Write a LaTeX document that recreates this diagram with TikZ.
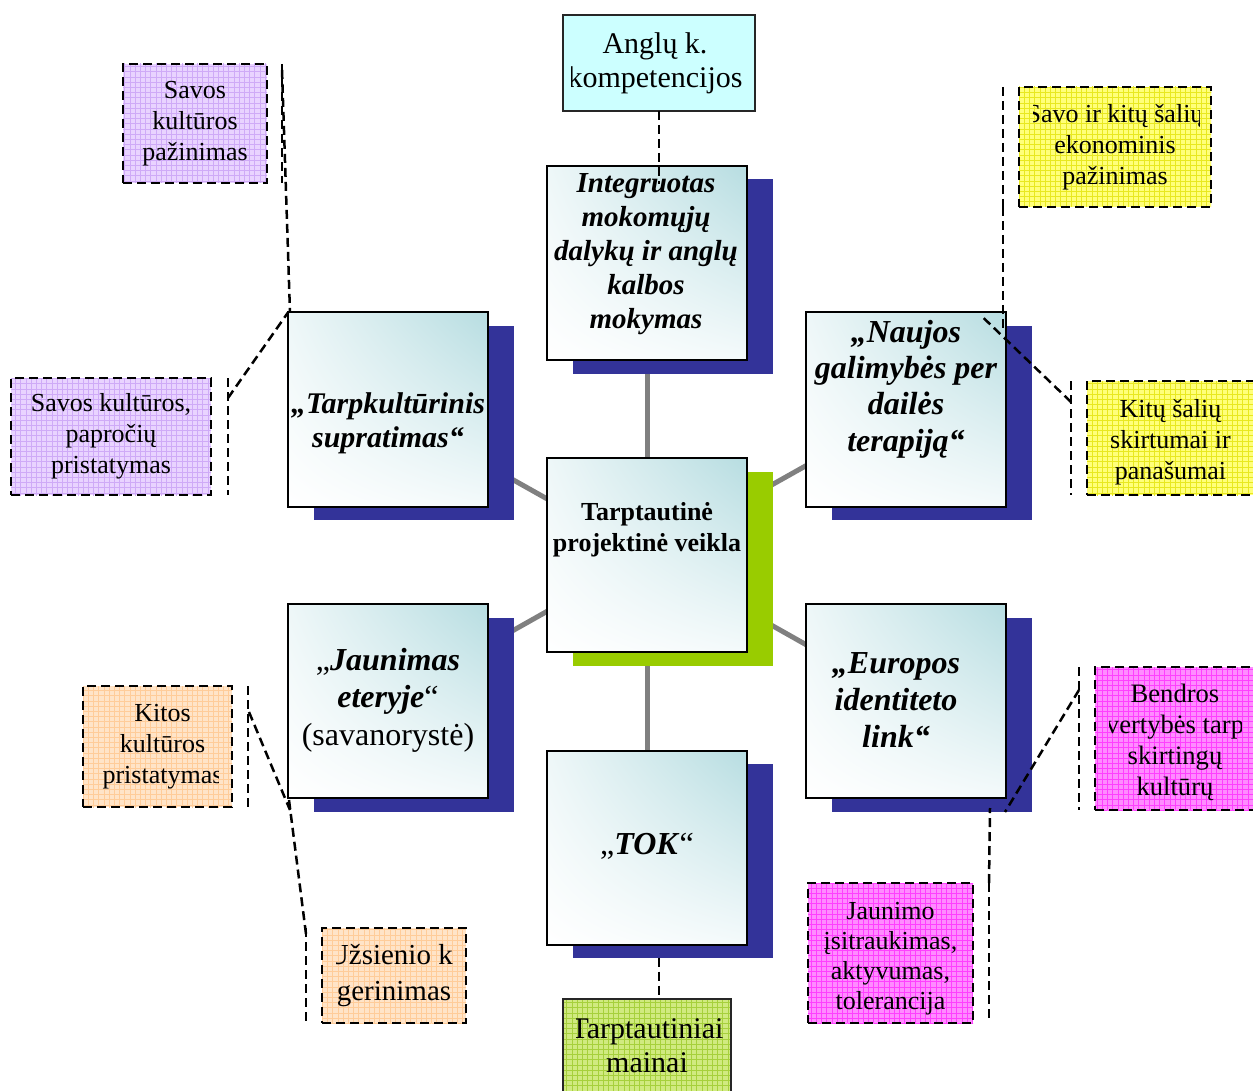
\documentclass[tikz,border=0pt]{standalone}
\usepackage{fontspec}
\setmainfont{Liberation Serif}
\usetikzlibrary{shadows,shadings,patterns,backgrounds}

\definecolor{shadownavy}{HTML}{333399}
\definecolor{shadowgreen}{HTML}{99CC00}
\definecolor{linkgray}{HTML}{808080}
\definecolor{tealtop}{HTML}{B7DDE1}
\definecolor{paletop}{HTML}{EEF7F8}
\definecolor{palebot}{HTML}{F4FAFB}
\definecolor{cyanfill}{HTML}{CCFFFF}
\definecolor{lilacfill}{HTML}{E9D3FF}
\definecolor{lilacgrid}{HTML}{CFAAF7}
\definecolor{yellowfill}{HTML}{FFFF7A}
\definecolor{yellowgrid}{HTML}{E8E820}
\definecolor{peachfill}{HTML}{FFE4C8}
\definecolor{peachgrid}{HTML}{FFCC99}
\definecolor{pinkfill}{HTML}{FF8CFF}
\definecolor{pinkgrid}{HTML}{FF40FF}
\definecolor{limefill}{HTML}{D0EA80}
\definecolor{limegrid}{HTML}{A6D03C}

% a fine square grid for the note fills
\pgfdeclarepatternformonly{finegrid}{\pgfqpoint{-1pt}{-1pt}}{\pgfqpoint{2.6pt}{2.6pt}}{\pgfqpoint{2.6pt}{2.6pt}}{%
  \pgfsetlinewidth{0.35pt}%
  \pgfpathmoveto{\pgfqpoint{0pt}{0pt}}\pgfpathlineto{\pgfqpoint{0pt}{2.7pt}}%
  \pgfpathmoveto{\pgfqpoint{0pt}{0pt}}\pgfpathlineto{\pgfqpoint{2.7pt}{0pt}}%
  \pgfusepath{stroke}}

% text of a boxed note, clipped to the inner part of the box
% #1 left inset, #2 right inset, #3 node options, #4 node name, #5 text
\newcommand\boxtext[5]{%
  \clip ([xshift=#1]path picture bounding box.south west)
        rectangle ([xshift=-#2]path picture bounding box.north east);
  \node[align=center, inner sep=0pt, #3] (#4)
        at (path picture bounding box.center) {#5};}
\newcommand\calfont{\fontsize{13}{15.5}\selectfont}

\tikzset{
  topic/.style={draw=black, line width=1pt, inner sep=0pt, outer sep=0pt,
    minimum width=100pt, minimum height=97pt, shade,
    upper right=tealtop, upper left=paletop, lower left=white, lower right=palebot},
  navyshadow/.style={general shadow={fill=shadownavy, shadow xshift=13pt, shadow yshift=-6.75pt}},
  greenshadow/.style={general shadow={fill=shadowgreen, shadow xshift=13pt, shadow yshift=-6.75pt}},
  topictext/.style={align=center, inner sep=0pt},
  link/.style={draw=linkgray, line width=2.5pt},
  dashline/.style={line width=1.25pt, dash pattern=on 4.5pt off 2.5pt},
  callout/.style n args={2}{draw=black, dashline, inner sep=0pt, outer sep=0pt,
    preaction={fill=#1}, pattern=finegrid, pattern color=#2},
  plainnote/.style={draw=black!85, line width=0.8pt, inner sep=0pt, outer sep=0pt}
}

\begin{document}
\begin{tikzpicture}[x=0.5pt, y=-0.5pt]
\useasboundingbox (0,0) rectangle (1253,1091);

% ---- topic boxes ----
\node[topic, navyshadow] (top) at (647,263) {};
\node[topictext, font=\fontsize{14.5}{17}\selectfont\bfseries\itshape] (topT) at (646,254)
  {Integruotas\\mokomųjų\\dalykų ir anglų\\kalbos\\mokymas};

\node[topic, navyshadow] (tarp) at (388,409.5) {};
\node[topictext, font=\fontsize{15}{17}\selectfont\bfseries\itshape] (tarpT) at (388,423)
  {„Tarpkultūrinis\\supratimas“};

\node[topic, navyshadow] (naujos) at (906,409.5) {};
\node[topictext, font=\fontsize{16}{18.2}\selectfont\bfseries\itshape] (naujosT) at (906,389)
  {„Naujos\\galimybės per\\dailės\\terapiją“};

\node[topic, greenshadow] (core) at (647,555) {};
\node[topictext, font=\fontsize{13}{15.5}\selectfont\bfseries] (coreT) at (647,530)
  {Tarptautinė\\projektinė veikla};

\node[topic, navyshadow] (jaun) at (388,701) {};
\node[topictext, font=\fontsize{16}{18.7}\selectfont] (jaunT) at (388,700)
  {„\textbf{\textit{Jaunimas}}\\\textbf{\textit{eteryje}}“\\(savanorystė)};

\node[topic, navyshadow] (eur) at (906,701) {};
\node[topictext, font=\fontsize{16}{18.3}\selectfont\bfseries\itshape] (eurT) at (896,700)
  {„Europos\\identiteto\\link“};

\node[topic, navyshadow] (tok) at (647,847.5) {};
\node[topictext, font=\fontsize{16}{18}\selectfont] (tokT) at (647,846)
  {„\textbf{\textit{TOK}}“};

% ---- plain notes above and below ----
\node[plainnote, fill=cyanfill, minimum width=96pt, minimum height=48pt,
  path picture={\boxtext{4pt}{4pt}{font=\fontsize{15}{17}\selectfont, xshift=-2pt}{cyanT}{Anglų k.\\kompetencijos}}]
  (cyan) at (659,63) {};
\node[plainnote, preaction={fill=limefill}, pattern=finegrid, pattern color=limegrid,
  minimum width=84pt, minimum height=47pt,
  path picture={\boxtext{6.5pt}{3.5pt}{font=\fontsize{15}{17}\selectfont}{limeT}{Tarptautiniai\\mainai}}]
  (lime) at (647,1046) {};

% ---- dashed notes ----
\node[callout={lilacfill}{lilacgrid}, minimum width=72pt, minimum height=59.5pt,
  path picture={\boxtext{7pt}{7pt}{font=\calfont}{p1T}{Savos\\kultūros\\pažinimas}}]
  (p1) at (195,123.5) {};
\node[callout={lilacfill}{lilacgrid}, minimum width=100pt, minimum height=58.5pt,
  path picture={\boxtext{6pt}{6pt}{font=\calfont}{p2T}{Savos kultūros,\\papročių\\pristatymas}}]
  (p2) at (111,436.5) {};
\node[callout={yellowfill}{yellowgrid}, minimum width=96pt, minimum height=60pt,
  path picture={\boxtext{7pt}{6pt}{font=\calfont}{y1T}{Savo ir kitų šalių\\ekonominis\\pažinimas}}]
  (y1) at (1115,147) {};
\node[callout={yellowfill}{yellowgrid}, minimum width=83.5pt, minimum height=57pt,
  path picture={\boxtext{6pt}{6pt}{font=\calfont, yshift=-2pt}{y2T}{Kitų šalių\\skirtumai ir\\panašumai}}]
  (y2) at (1170.5,438) {};
\node[callout={peachfill}{peachgrid}, minimum width=74.5pt, minimum height=60.5pt,
  path picture={\boxtext{7pt}{7pt}{font=\calfont, xshift=2.5pt}{o1T}{Kitos\\kultūros\\pristatymas}}]
  (o1) at (157.5,746.5) {};
\node[callout={peachfill}{peachgrid}, minimum width=72pt, minimum height=47.5pt,
  path picture={\boxtext{7pt}{7pt}{font=\fontsize{14.5}{18}\selectfont}{o2T}{Užsienio k.\\gerinimas}}]
  (o2) at (394,975.5) {};
\node[callout={pinkfill}{pinkgrid}, minimum width=80pt, minimum height=71.5pt,
  path picture={\boxtext{7pt}{7pt}{font=\fontsize{13.3}{15.5}\selectfont, yshift=-2pt}{k1T}{Bendros\\vertybės tarp\\skirtingų\\kultūrų}}]
  (k1) at (1175,738.5) {};
\node[callout={pinkfill}{pinkgrid}, minimum width=82.5pt, minimum height=70pt,
  path picture={\boxtext{6pt}{6pt}{font=\fontsize{13}{15}\selectfont, yshift=-3pt}{k2T}{Jaunimo\\įsitraukimas,\\aktyvumas,\\tolerancija}}]
  (k2) at (890.5,953) {};

% ---- accent bars beside the dashed notes ----
\draw[dashline] ([xshift=7.5pt]p1.north east) -- ([xshift=7.5pt]p1.south east);
\draw[dashline] ([xshift=8.5pt]p2.north east) -- ([xshift=8.5pt]p2.south east);
\draw[dashline] ([xshift=-8pt]y1.north west) -- ([xshift=-8pt]y1.south west);
\draw[dashline] ([xshift=-8pt]y2.north west) -- ([xshift=-8pt]y2.south west);
\draw[dashline] ([xshift=8pt]o1.north east) -- ([xshift=8pt]o1.south east);
\draw[dashline] ([xshift=-8pt]o2.north west) -- ([xshift=-8pt]o2.south west);
\draw[dashline] ([xshift=-8pt]k1.north west) -- ([xshift=-8pt]k1.south west);
\draw[dashline] ([xshift=8pt]k2.north east) -- ([xshift=8pt]k2.south east);

% ---- leader lines ----
\draw[dashline] ([xshift=7.5pt,yshift=-3pt]p1.north east) -- ([xshift=1pt]tarp.north west);
\draw[dashline] ([xshift=8.5pt,yshift=-10pt]p2.north east) -- (tarp.north west);
\draw[dashline] ([xshift=-8pt]y1.south west) -- ([xshift=-1.5pt,yshift=-9pt]naujos.north east);
\draw[dashline] ([xshift=-8pt,yshift=-10.5pt]y2.north west) -- ([xshift=-12pt,yshift=-2pt]naujos.north east);
\draw[dashline] ([xshift=8.5pt,yshift=-13pt]o1.north east) -- ([xshift=1pt,yshift=-6pt]jaun.south west);
\draw[dashline] ([xshift=-8pt,yshift=-3pt]o2.north west) -- ([xshift=0.5pt,yshift=-1pt]jaun.south west);
\draw[dashline] ([xshift=-8pt,yshift=-11.5pt]k1.north west) -- ([xshift=-0.5pt,yshift=-7pt]eur.south east);
\draw[dashline] ([xshift=8pt]k2.north east) -- ([xshift=-8pt,yshift=-5pt]eur.south east);
\draw[dashline] (cyan.south) -- ([xshift=6pt,yshift=-9pt]top.north);
\draw[dashline] ([xshift=6pt,yshift=-6.5pt]tok.south) -- ([xshift=6pt]lime.north);

% ---- grey links from the core to every topic ----
\begin{scope}[on background layer]
  \draw[link] (core.center) -- (top.center);
  \draw[link] (core.center) -- (tok.center);
  \draw[link] (core.center) -- (tarp.center);
  \draw[link] (core.center) -- (naujos.center);
  \draw[link] (core.center) -- (jaun.center);
  \draw[link] (core.center) -- (eur.center);
\end{scope}
\end{tikzpicture}
\end{document}
